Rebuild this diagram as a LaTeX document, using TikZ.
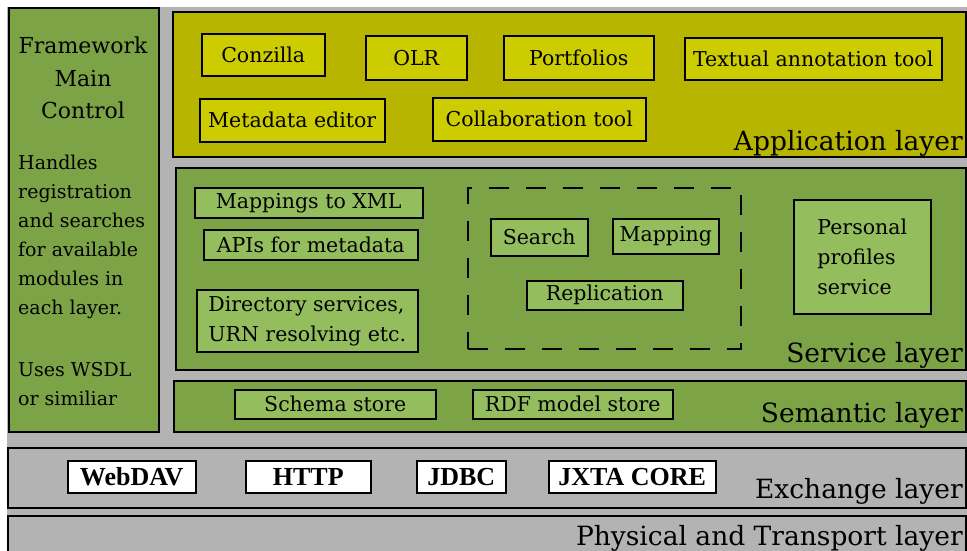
\documentclass[tikz,border=0pt]{standalone}
\usepackage{fontspec}
\setmainfont{DejaVu Serif}
\newfontfamily\timesfont{Liberation Serif}
\definecolor{bggray}{RGB}{179,179,179}
\definecolor{appolive}{RGB}{183,181,0}
\definecolor{appyellow}{RGB}{204,204,0}
\definecolor{svcgreen}{RGB}{124,164,70}
\definecolor{boxgreen}{RGB}{148,189,94}

\begin{document}
\begin{tikzpicture}[x=1pt,y=-1pt,
    layer/.style={draw,line width=1.5pt,anchor=north west,inner sep=0pt},
    layerlabel/.style={anchor=base east,inner sep=0pt,font=\fontsize{26.5}{32}\selectfont},
    appbox/.style={draw,fill=appyellow,line width=1.5pt,anchor=north west,
      inner sep=0pt,font=\fontsize{20.5}{25}\selectfont},
    svcbox/.style={draw,fill=boxgreen,line width=1.5pt,anchor=north west,
      inner sep=0pt,font=\fontsize{20.5}{30}\selectfont},
    xbox/.style={draw,fill=white,line width=1.5pt,anchor=north west,
      inner sep=0pt,font=\timesfont\bfseries\fontsize{26}{30}\selectfont},
    paneltext/.style={inner sep=0pt}]
    \useasboundingbox (0,0) rectangle (967,550);
    \fill[bggray] (7,7) rectangle (967,550);
    % framework main control
    \node[layer,fill=svcgreen,minimum width=150pt,minimum height=424pt] (fmc) at (8,7) {};
    \node[paneltext,align=center,anchor=north,font=\fontsize{22}{32.5}\selectfont]
      (fmctitle) at (83,37) {Framework\\Main\\Control};
    \node[paneltext,align=left,anchor=north west,font=\fontsize{19}{29}\selectfont]
      (fmcbody) at (18,155) {Handles\\registration\\and searches\\for available\\modules in\\each layer.\\[33pt]Uses WSDL\\or similiar};
    % application layer
    \node[layer,fill=appolive,minimum width=793pt,minimum height=145pt] (app) at (172,11) {};
    \node[appbox,minimum width=123pt,minimum height=42pt] (conzilla) at (201,33) {Conzilla};
    \node[appbox,minimum width=101pt,minimum height=44pt] (olr) at (365,35) {OLR};
    \node[appbox,minimum width=150pt,minimum height=44pt] (portfolios) at (503,35) {Portfolios};
    \node[appbox,minimum width=257pt,minimum height=42pt] (textual) at (684,37) {Textual annotation tool};
    \node[appbox,minimum width=185pt,minimum height=43pt] (mdeditor) at (199,98) {Metadata editor};
    \node[appbox,minimum width=213pt,minimum height=43pt] (collab) at (432,97) {Collaboration tool};
    \node[layerlabel] (applabel) at (963,150) {Application layer};
    % service layer
    \node[layer,fill=svcgreen,minimum width=790pt,minimum height=202pt] (svc) at (175,167) {};
    \node[svcbox,minimum width=228pt,minimum height=30pt] (xmlmap) at (194,187) {Mappings to XML};
    \node[svcbox,minimum width=214pt,minimum height=30pt] (mdapi) at (203,229) {APIs for metadata};
    \node[svcbox,minimum width=221pt,minimum height=62pt,align=left] (dirsvc) at (196,289)
      {Directory services,\\URN resolving etc.};
    \node[draw,line width=1.5pt,dash pattern=on 20pt off 17pt,anchor=north west,
      minimum width=273pt,minimum height=161pt] (p2pgroup) at (467,187) {};
    \node[svcbox,minimum width=97pt,minimum height=37pt] (search) at (490,218) {Search};
    \node[svcbox,minimum width=106pt,minimum height=35pt] (mapping) at (612,218) {Mapping};
    \node[svcbox,minimum width=156pt,minimum height=29pt] (replication) at (526,280) {Replication};
    \node[svcbox,minimum width=137pt,minimum height=114pt,align=left] (profiles) at (793,199)
      {Personal\\profiles\\service};
    \node[layerlabel] (svclabel) at (963,362) {Service layer};
    % semantic layer
    \node[layer,fill=svcgreen,minimum width=792pt,minimum height=51pt] (sem) at (173,380) {};
    \node[svcbox,minimum width=201pt,minimum height=29pt] (schema) at (234,389) {Schema store};
    \node[svcbox,minimum width=200pt,minimum height=29pt] (rdfstore) at (472,389) {RDF model store};
    \node[layerlabel] (semlabel) at (963,422) {Semantic layer};
    % exchange layer
    \node[layer,fill=bggray,minimum width=958pt,minimum height=60pt] (xch) at (7,447) {};
    \node[xbox,minimum width=128pt,minimum height=32pt] (webdav) at (67,460) {WebDAV};
    \node[xbox,minimum width=125pt,minimum height=32pt] (http) at (245,460) {HTTP};
    \node[xbox,minimum width=89pt,minimum height=32pt] (jdbc) at (416,460) {JDBC};
    \node[xbox,minimum width=167pt,minimum height=32pt] (jxta) at (548,460) {JXTA CORE};
    \node[layerlabel] (xchlabel) at (963,498) {Exchange layer};
    % physical and transport layer
    \node[layer,fill=bggray,minimum width=958pt,minimum height=50pt] (phys) at (7,515) {};
    \node[layerlabel] (physlabel) at (963,545) {Physical and Transport layer};
  \end{tikzpicture}
\end{document}
